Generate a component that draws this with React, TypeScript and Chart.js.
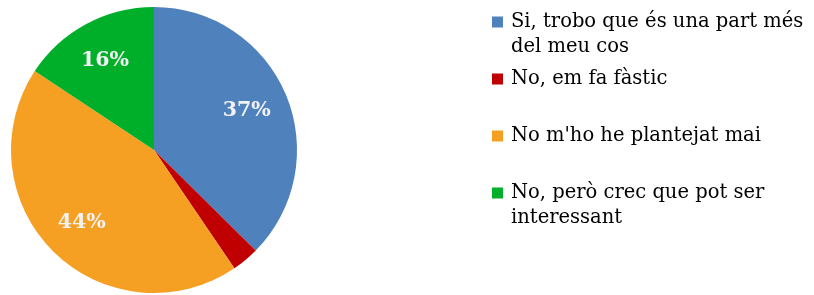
import React, { useEffect, useRef } from "react";
import { Chart, registerables } from "chart.js";

Chart.register(...registerables);

const categories = [
  "Si, trobo que és una part més del meu cos",
  "No, em fa fàstic",
  "No m'ho he plantejat mai",
  "No, però crec que pot ser interessant",
];
const legendLines = [
  ["Si, trobo que és una part més", "del meu cos"],
  ["No, em fa fàstic"],
  ["No m'ho he plantejat mai"],
  ["No, però crec que pot ser", "interessant"],
];
const values = [37.4, 3.1, 43.8, 15.7];
const sliceLabels = ["37%", "", "44%", "16%"];
const colors = ["#4F81BD", "#C00000", "#F5A022", "#00AF29"];

const FONT = "'DejaVu Serif', serif";

const labelPlugin = {
  id: "sliceLabels",
  afterDatasetsDraw(chart: any) {
    const ctx = chart.ctx;
    const meta = chart.getDatasetMeta(0);
    ctx.save();
    ctx.font = `bold 20.5px ${FONT}`;
    ctx.fillStyle = "#F2F2F2";
    ctx.textAlign = "center";
    ctx.textBaseline = "middle";
    meta.data.forEach((arc: any, i: number) => {
      const t = sliceLabels[i];
      if (!t) return;
      const p = arc.getProps(["startAngle", "endAngle", "outerRadius", "x", "y"], true);
      const mid = (p.startAngle + p.endAngle) / 2;
      const r = p.outerRadius * 0.71;
      ctx.fillText(t, p.x + Math.cos(mid) * r - 1, p.y + Math.sin(mid) * r);
    });
    ctx.restore();
  },
};

const legendPlugin = {
  id: "sideLegend",
  afterDraw(chart: any) {
    const ctx = chart.ctx;
    ctx.save();
    ctx.font = `19.5px ${FONT}`;
    ctx.textBaseline = "middle";
    ctx.textAlign = "left";
    const x0 = 492;
    const y0 = 22;
    const slot = 57;
    const lineH = 25;
    legendLines.forEach((lines, i) => {
      const y = y0 + i * slot;
      ctx.fillStyle = colors[i];
      ctx.fillRect(x0, y - 5.5, 11, 11);
      ctx.fillStyle = "#000000";
      lines.forEach((ln, j) => ctx.fillText(ln, x0 + 19, y + j * lineH));
    });
    ctx.restore();
  },
};

export default function App() {
  const ref = useRef<HTMLCanvasElement>(null);
  useEffect(() => {
    document.body.style.margin = "0";
    const chart = new Chart(ref.current!, {
      type: "pie",
      data: {
        labels: categories,
        datasets: [
          {
            data: values,
            backgroundColor: colors,
            borderWidth: 0,
          },
        ],
      },
      options: {
        animation: false,
        responsive: false,
        maintainAspectRatio: false,
        layout: { padding: { left: 11, top: 7, right: 517, bottom: 2 } },
        plugins: {
          legend: { display: false },
          tooltip: { enabled: false },
        },
      },
      plugins: [labelPlugin, legendPlugin],
    });
    return () => chart.destroy();
  }, []);
  return (
    <div style={{ width: 814, height: 295, background: "#fff" }}>
      <canvas ref={ref} width={814} height={295} />
    </div>
  );
}
